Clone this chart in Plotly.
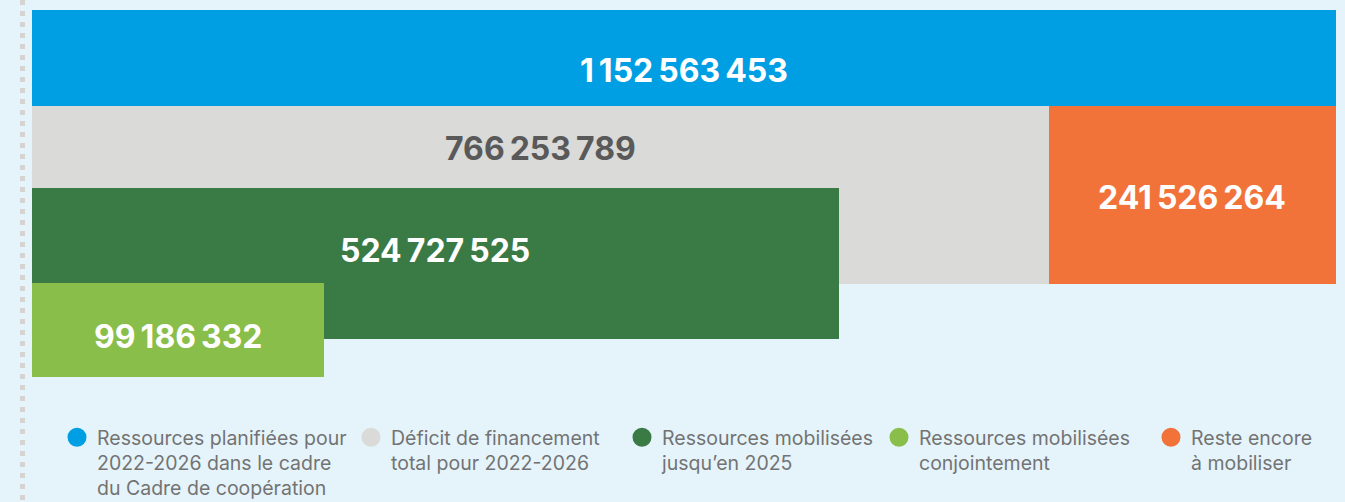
import plotly.graph_objects as go

# --- data -------------------------------------------------------------
series_names = [
    "Ressources planifiées pour<br>2022-2026 dans le cadre<br>du Cadre de coopération",
    "Déficit de financement<br>total pour 2022-2026",
    "Ressources mobilisées<br>jusqu’en 2025",
    "Ressources mobilisées<br>conjointement",
    "Reste encore<br>à mobiliser",
]
amounts = [1152563453, 766253789, 524727525, 99186332, 241526264]
planned, deficit, mobilized, joint, remaining = amounts

# --- styling ----------------------------------------------------------
colors = ["#009FE3", "#DADAD8", "#3A7A45", "#89BE4A", "#F2733A"]
label_colors = ["#FFFFFF", "#595959", "#FFFFFF", "#FFFFFF", "#FFFFFF"]
BG = "#E5F4FB"
FONT = "Inter"
EXP = 0.61  # power scale for bar lengths


def scale(v):
    return (v / 1e6) ** EXP


def fmt(v):
    return f"{v:,}".replace(",", "\u2009")


# vertical bands of the infographic (top, height) in plot rows
bands = {
    "planned": (0, 96),
    "deficit": (96, 178),
    "remaining": (96, 178),
    "mobilized": (178, 151),
    "joint": (273, 94),
}
PLOT_H = 367

# (key, value index, base, end)
bars = [
    ("planned", 0, 0, scale(planned)),
    ("deficit", 1, 0, scale(deficit)),
    ("remaining", 4, scale(deficit), scale(planned)),
    ("mobilized", 2, 0, scale(mobilized)),
    ("joint", 3, 0, scale(joint)),
]
# label row inside each band
label_rows = {"planned": 60, "deficit": 138, "remaining": 187, "mobilized": 240, "joint": 326}

fig = go.Figure()
annotations = []
for key, idx, base, end in bars:
    top, h = bands[key]
    fig.add_trace(go.Bar(
        orientation="h", y=[top + h / 2], x=[end - base], base=[base], width=[h],
        marker=dict(color=colors[idx], line=dict(width=0)),
        showlegend=False, hoverinfo="skip",
    ))
    annotations.append(dict(
        x=(base + end) / 2, y=label_rows[key], xref="x", yref="y",
        text=fmt(amounts[idx]), showarrow=False,
        font=dict(family=FONT, size=32, weight=700, color=label_colors[idx]),
    ))

# legend entries (one legend per entry to place them freely)
legend_px = [77, 371, 642, 899, 1171]
L, R, T, B = 32, 9, 10, 125
PW = 1345 - L - R
legends = {}
for i, name in enumerate(series_names):
    lid = "legend" if i == 0 else f"legend{i + 1}"
    fig.add_trace(go.Scatter(
        x=[None], y=[None], mode="markers", name=name, legend=lid,
        marker=dict(symbol="circle", size=16, color=colors[i],
                    line=dict(width=3, color=colors[i])),
        hoverinfo="skip",
    ))
    legends[lid] = dict(
        x=(legend_px[i] - 20 - L) / PW, y=(PLOT_H - 408) / PLOT_H,
        xanchor="left", yanchor="top", bgcolor="rgba(0,0,0,0)",
        borderwidth=0, valign="top", itemclick=False, itemdoubleclick=False,
        font=dict(family=FONT, size=19.5, color="#737373"),
    )

fig.update_layout(
    width=1345, height=502,
    margin=dict(l=L, r=R, t=T, b=B, pad=0, autoexpand=False),
    paper_bgcolor=BG, plot_bgcolor=BG,
    barmode="overlay", bargap=0,
    xaxis=dict(visible=False, range=[0, scale(planned)], fixedrange=True),
    yaxis=dict(visible=False, range=[PLOT_H, 0], fixedrange=True),
    annotations=annotations,
    shapes=[dict(
        type="line", xref="paper", yref="paper",
        x0=(22.5 - L) / PW, x1=(22.5 - L) / PW,
        y0=1 + T / PLOT_H, y1=-B / PLOT_H,
        line=dict(color="#D6D3D0", width=5, dash="5px,6px"),
    )],
    **legends,
)

fig.write_html("out.html", config={"displayModeBar": False})
